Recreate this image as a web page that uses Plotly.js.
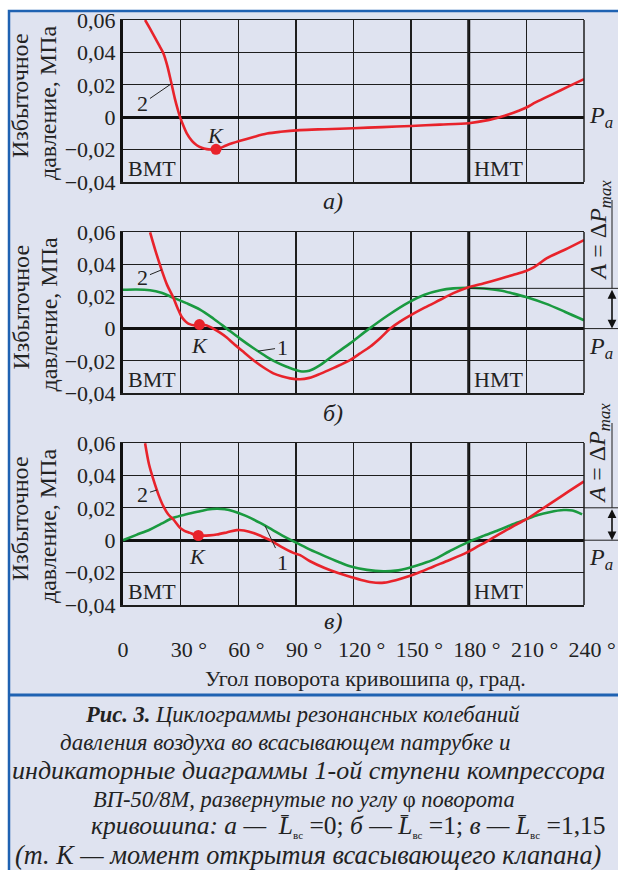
<!DOCTYPE html>
<html><head><meta charset="utf-8">
<script src="https://cdn.plot.ly/plotly-3.0.1.min.js"></script>
<style>html,body{margin:0;padding:0;background:#fff;} #chart{width:618px;height:870px;}</style>
</head><body><div id="chart"></div>
<script>
// ---- ticks ----
const xTickVals = [0, 30, 60, 90, 120, 150, 180, 210, 240];
const xTickLabels = ["0", "30 °", "60 °", "90 °", "120 °", "150 °", "180 °", "210 °", "240 °"];
const yTickVals = [-0.04, -0.02, 0, 0.02, 0.04, 0.06];
const yTickLabels = ["−0,04", "−0,02", "0", "0,02", "0,04", "0,06"];
const bdcAngle = [0];      // ВМТ
const tdcAngle = [180];    // НМТ

// ---- panel а) : curve 2 ----
const aRedPhi = [11.5, 14, 16.5, 19, 21, 23, 25, 27, 28.5, 29.7, 31.5, 33.2, 36, 38.4, 41, 43.6, 46, 48.4, 51, 54, 61, 68, 75, 82, 92, 105, 120, 135, 150, 165, 180, 190, 196, 201, 206, 210, 215, 225, 232, 240];
const aRedVal = [0.060, 0.0548, 0.0495, 0.044, 0.0395, 0.032, 0.022, 0.0115, 0.0048, 0, -0.0055, -0.010, -0.0148, -0.0173, -0.0189, -0.0197, -0.0199, -0.0198, -0.0188, -0.0173, -0.0146, -0.0122, -0.0101, -0.009, -0.008, -0.0074, -0.0068, -0.0061, -0.0054, -0.0046, -0.0037, -0.0018, 0, 0.0018, 0.0040, 0.0060, 0.0093, 0.015, 0.019, 0.0235];

// ---- panel б) ----
const bRedPhi = [14.1, 17, 20.1, 23, 26.2, 28.5, 30.6, 32.5, 34, 37.5, 39.8, 43.6, 47, 50.5, 54, 57.5, 62, 67.9, 73, 78.3, 83, 87, 92.2, 97, 102.6, 110, 118.2, 123, 128.6, 134, 139.1, 144, 148.7, 157, 165.2, 172, 179.1, 188, 196.4, 203, 209.8, 214, 217.2, 220.7, 230, 240];
const bRedVal = [0.0598, 0.048, 0.0365, 0.027, 0.0192, 0.0125, 0.0072, 0.0045, 0.0031, 0.002, 0.0025, 0.002, 0, -0.0025, -0.0055, -0.0093, -0.0138, -0.0196, -0.024, -0.0278, -0.0298, -0.0309, -0.0315, -0.0306, -0.0281, -0.0242, -0.0196, -0.0157, -0.0113, -0.0058, 0, 0.0042, 0.0076, 0.013, 0.0179, 0.022, 0.0254, 0.0282, 0.031, 0.0333, 0.0358, 0.0382, 0.0408, 0.0438, 0.049, 0.055];
const bGreenPhi = [0, 7, 14.1, 20, 26.2, 33, 40.1, 47, 54, 60.9, 68, 74.8, 80, 85.2, 92.2, 97, 102.6, 110, 118.2, 127.7, 138, 148.7, 157, 165.2, 172, 179.1, 188, 196.4, 203, 209.8, 220, 230, 240];
const bGreenVal = [0.0241, 0.0243, 0.0238, 0.0222, 0.0192, 0.0158, 0.0118, 0.0063, 0, -0.0062, -0.0122, -0.0175, -0.021, -0.0237, -0.0265, -0.0262, -0.0227, -0.0162, -0.0092, -0.0005, 0.0083, 0.0163, 0.021, 0.0238, 0.025, 0.0254, 0.0249, 0.0237, 0.0218, 0.0196, 0.0155, 0.0105, 0.0052];

// ---- panel в) ----
const cRedPhi = [11.5, 13.5, 15.8, 18.5, 21, 23.5, 26.2, 29.7, 32, 34.9, 37, 39.2, 42, 45, 48.8, 54, 59.2, 63, 67.9, 72, 76.6, 82, 88.7, 92.2, 97.4, 105, 112, 118.2, 124, 129.5, 136, 142, 148.7, 155, 161.7, 170, 179.1, 184, 189.5, 195, 200, 205, 209.8, 217.2, 225, 232, 240];
const cRedVal = [0.0598, 0.047, 0.0375, 0.028, 0.021, 0.016, 0.0128, 0.0076, 0.0058, 0.0045, 0.0035, 0.0029, 0.0028, 0.003, 0.0035, 0.0048, 0.0062, 0.006, 0.0045, 0.0025, 0, -0.0038, -0.0078, -0.0092, -0.013, -0.0172, -0.0203, -0.0225, -0.0246, -0.026, -0.0262, -0.0247, -0.0223, -0.0195, -0.0162, -0.0122, -0.0075, -0.0043, -0.0007, 0.0032, 0.0065, 0.0098, 0.0128, 0.0185, 0.0246, 0.0301, 0.0363];
const cGreenPhi = [0, 7, 14.1, 20, 26.2, 33, 40.1, 44, 48.8, 53, 57.5, 64, 71.4, 78, 85.2, 92.2, 97.4, 105, 112, 118.2, 127, 135.6, 142, 148.7, 155, 161.7, 170, 179.1, 188, 196.4, 203, 209.8, 216, 222, 229.4, 234, 239];
const cGreenVal = [0, 0.0033, 0.0066, 0.0102, 0.0138, 0.016, 0.0179, 0.0189, 0.0194, 0.0191, 0.0179, 0.015, 0.0107, 0.0062, 0.0014, -0.0027, -0.0058, -0.0098, -0.0133, -0.0161, -0.0183, -0.0192, -0.0188, -0.0171, -0.0148, -0.012, -0.0068, -0.0015, 0.0028, 0.0066, 0.0098, 0.0128, 0.0155, 0.0173, 0.0186, 0.0183, 0.0159];

// ---- point K (opening of the suction valve) ----
const kPhi = [48.4, 39.8, 39.2];
const kVal = [-0.0198, 0.0025, 0.0029];
// amplitude reference level A = ΔPmax for panels б) and в)
const ampVal = [0.025, 0.02];

const panelLetters = ["а)", "б)", "в)"];
const SUB = '<sub><span style="font-size:11px">вс</span></sub>';
const captionLines = [
  "<b><i>Рис. 3.</i></b><i> Циклограммы резонансных колебаний</i>",
  "<i>давления воздуха во всасывающем патрубке и</i>",
  "<i>индикаторные диаграммы 1-ой ступени компрессора</i>",
  "<i>ВП-50/8М, развернутые по углу</i> φ <i>поворота</i>",
  "<i>кривошипа: а — \u00a0L\u0304</i>" + SUB + "\u00a0=0; <i>б — L\u0304</i>" + SUB + "\u00a0=1; <i>в — L\u0304</i>" + SUB + "\u00a0=1,15",
  "<i>(т. К — момент открытия всасывающего клапана)</i>"
];

const SERIF = 'Liberation Serif, Times New Roman, serif';
const RED = '#e8232b', GREEN = '#1a9a40', INK = '#1e1e1e';
const BG = '#dfe3f0', BLUE = '#1f62b2';

const W = 618, H = 870, ML = 123, MR = 34, MT = 20, MB = 265;
const PW = W - ML - MR, PH = H - MT - MB;
const px2x = p => (p - ML) / PW;
const px2y = p => (H - MB - p) / PH;

const domains = [[px2y(182), 1], [px2y(393), px2y(232)], [0, px2y(443)]];
const yOfVal = (d, v) => d[0] + (v + 0.04) / 0.1 * (d[1] - d[0]);

function line(phi, val, color, ax) {
  return {type: 'scatter', mode: 'lines', x: phi, y: val, xaxis: ax[0], yaxis: ax[1],
    line: {color: color, width: 2.6, shape: 'spline', smoothing: 0.9}, hoverinfo: 'skip'};
}
const axes = [['x', 'y'], ['x2', 'y2'], ['x3', 'y3']];
const data = [
  line(aRedPhi, aRedVal, RED, axes[0]),
  line(bGreenPhi, bGreenVal, GREEN, axes[1]),
  line(bRedPhi, bRedVal, RED, axes[1]),
  line(cGreenPhi, cGreenVal, GREEN, axes[2]),
  line(cRedPhi, cRedVal, RED, axes[2])
];
kPhi.forEach((p, i) => data.push({type: 'scatter', mode: 'markers', x: [p], y: [kVal[i]],
  xaxis: axes[i][0], yaxis: axes[i][1], marker: {color: RED, size: 11}, hoverinfo: 'skip'}));

const padded = xTickLabels.map(t => t === "0" ? t : "\u00a0\u00a0\u00a0" + t);
function xax(anchor, show) {
  return {domain: [0, 1], anchor: anchor, range: [0, 240], tickvals: xTickVals,
    ticktext: padded, showticklabels: show, tickangle: 0, ticks: '', showgrid: true, gridcolor: INK, gridwidth: 1.3,
    zeroline: false, showline: true, mirror: true, linecolor: INK, linewidth: 1.5, fixedrange: true,
    tickfont: {family: SERIF, size: 22, color: '#222'}, ticklabelstandoff: 24};
}
function yax(anchor, dom) {
  return {domain: dom, anchor: anchor, range: [-0.04, 0.06], tickvals: yTickVals, ticktext: yTickLabels,
    ticks: '', showgrid: true, gridcolor: INK, gridwidth: 1.3, zeroline: true, zerolinecolor: '#111',
    zerolinewidth: 3, showline: true, mirror: false, linecolor: '#111', linewidth: 3, fixedrange: true,
    tickfont: {family: SERIF, size: 22, color: '#222'}};
}

const shapes = [
  {type: 'rect', xref: 'paper', yref: 'paper', x0: px2x(9), x1: px2x(680), y0: px2y(900), y1: px2y(11),
   fillcolor: BG, line: {color: BLUE, width: 2.5}, layer: 'below'},
  {type: 'line', xref: 'paper', yref: 'paper', x0: px2x(9), x1: px2x(680), y0: px2y(695), y1: px2y(695),
   line: {color: BLUE, width: 3}, layer: 'below'}
];
axes.forEach((a, i) => {
  shapes.push({type: 'line', xref: 'paper', yref: 'paper', x0: 1, x1: 1, y0: domains[i][0], y1: domains[i][1],
    line: {color: INK, width: 1.5}, layer: 'above'});
  shapes.push({type: 'line', xref: a[0], yref: 'paper', x0: tdcAngle[0], x1: tdcAngle[0],
    y0: domains[i][0], y1: domains[i][1], line: {color: '#111', width: 3}, layer: 'below'});
});
// dimension lines for A = ΔPmax
[1, 2].forEach((i, k) => {
  const ya = axes[i][1];
  shapes.push({type: 'line', xref: 'paper', yref: ya, x0: 1, x1: px2x(620), y0: 0, y1: 0,
    line: {color: INK, width: 1}, layer: 'above'});
  shapes.push({type: 'line', xref: 'paper', yref: ya, x0: k === 0 ? tdcAngle[0] / 240 : 1, x1: px2x(620),
    y0: ampVal[k], y1: ampVal[k], line: {color: INK, width: 1}, layer: 'above'});
  shapes.push({type: 'line', xref: 'paper', yref: 'paper', x0: px2x(612), x1: px2x(612),
    y0: yOfVal(domains[i], ampVal[k]), y1: k === 0 ? px2y(200) : px2y(423), line: {color: INK, width: 1}, layer: 'above'});
});

const ann = [];
const T = (o) => Object.assign({showarrow: false, xanchor: 'center', yanchor: 'middle',
  font: {family: SERIF, size: 22, color: '#222'}}, o);
domains.forEach((d, i) => {
  const yc = (d[0] + d[1]) / 2;
  ann.push(T({xref: 'paper', yref: 'paper', x: px2x(20), y: yc + px2y(96) - px2y(101), textangle: -90,
    text: 'Избыточное', font: {family: SERIF, size: 24, color: '#222'}}));
  ann.push(T({xref: 'paper', yref: 'paper', x: px2x(48), y: yc + px2y(103) - px2y(101), textangle: -90,
    text: 'давление, МПа', font: {family: SERIF, size: 24, color: '#222'}}));
  ann.push(T({xref: axes[i][0], yref: axes[i][1], x: bdcAngle[0], y: -0.04, xanchor: 'left', yanchor: 'bottom',
    xshift: 3, yshift: -1, text: 'ВМТ'}));
  ann.push(T({xref: axes[i][0], yref: axes[i][1], x: tdcAngle[0], y: -0.04, xanchor: 'left', yanchor: 'bottom',
    xshift: 3, yshift: -1, text: 'НМТ'}));
  ann.push(T({xref: 'paper', yref: axes[i][1], x: px2x(587), y: 0, xanchor: 'left',
    yanchor: i === 0 ? 'middle' : 'top', yshift: i === 0 ? 0 : -2, text: '<i>P</i><sub><i>a</i></sub>',
    font: {family: SERIF, size: 24, color: '#222'}}));
});
const letterY = [201, 413, 621];
panelLetters.forEach((t, i) => ann.push(T({xref: 'paper', yref: 'paper', x: px2x(333), y: px2y(letterY[i]),
  text: '<i>' + t + '</i>', font: {family: SERIF, size: 24, color: '#222'}})));
function lab(ax, text, tx, ty, hx, hy) {
  const o = T({xref: ax[0], yref: ax[1], text: text});
  if (hx === undefined) { o.x = tx; o.y = ty; }
  else { Object.assign(o, {x: hx, y: hy, ax: tx, ay: ty, axref: ax[0], ayref: ax[1], showarrow: true,
    arrowhead: 0, arrowwidth: 1, arrowcolor: '#222'}); }
  ann.push(o);
}
lab(axes[0], '2', 10.4, 0.0086, 25.0, 0.0205);
lab(axes[0], '<i>К</i>', 48.4, -0.011);
lab(axes[1], '2', 10.4, 0.0317, 20.1, 0.0365);
lab(axes[1], '1', 82.8, -0.0118, 70.3, -0.014);
lab(axes[1], '<i>К</i>', 40, -0.0106);
lab(axes[2], '2', 10.4, 0.0283, 17.7, 0.031);
lab(axes[2], '1', 82.8, -0.0135, 74, 0.0088);
lab(axes[2], '<i>К</i>', 39, -0.0098);
[1, 2].forEach((i, k) => {
  ann.push(T({xref: 'paper', yref: 'paper', x: px2x(599), y: k === 0 ? px2y(283) : px2y(506), yanchor: 'bottom',
    textangle: -90, text: '<i>A</i> = Δ<i>P</i><sub><i>max</i></sub>', font: {family: SERIF, size: 24, color: '#222'}}));
  ann.push({xref: 'paper', yref: axes[i][1], x: px2x(612), y: 0, axref: 'pixel', ax: 0, ayref: axes[i][1],
    ay: ampVal[k], text: '', showarrow: true, arrowhead: 2, arrowside: 'end+start', arrowsize: 1.1,
    arrowwidth: 1.6, arrowcolor: '#111', standoff: 0, startstandoff: 0});
});
ann.push(T({xref: 'paper', yref: 'paper', x: px2x(365), y: px2y(678), text: 'Угол поворота кривошипа φ, град.'}));
const capY = [714, 742, 771, 799, 826, 855];
const capX = [302, 285, 308, 304, 608, 308];
const capSize = [22.5, 23, 26, 22.5, 25.5, 26.3];
captionLines.forEach((t, i) => {
  const o = T({xref: 'paper', yref: 'paper', y: px2y(capY[i]), x: px2x(capX[i]), text: t,
    font: {family: SERIF, size: capSize[i], color: '#222'}});
  if (i === 4) o.xanchor = 'right';
  ann.push(o);
});

const layout = {
  width: W, height: H, margin: {l: ML, r: MR, t: MT, b: MB}, showlegend: false,
  paper_bgcolor: '#ffffff', plot_bgcolor: 'rgba(0,0,0,0)',
  font: {family: SERIF, color: '#222'},
  xaxis: xax('y', false), xaxis2: xax('y2', false), xaxis3: xax('y3', true),
  yaxis: yax('x', domains[0]), yaxis2: yax('x2', domains[1]), yaxis3: yax('x3', domains[2]),
  shapes: shapes, annotations: ann
};
Plotly.newPlot('chart', data, layout, {displayModeBar: false, staticPlot: true});
</script></body></html>
